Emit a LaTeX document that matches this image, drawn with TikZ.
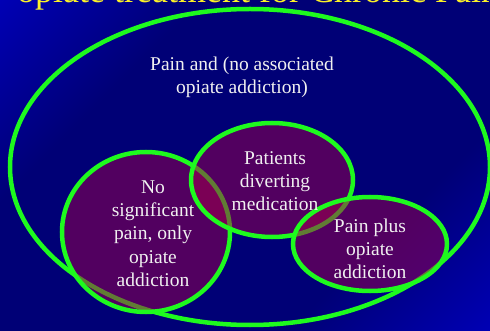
\documentclass[tikz,border=0pt]{standalone}
\usepackage{fontspec}
\setmainfont{Liberation Serif}
\definecolor{bgbright}{RGB}{0,0,232}
\definecolor{bgdark}{RGB}{0,0,118}
\definecolor{ringgreen}{RGB}{30,250,30}
\definecolor{setfill}{RGB}{165,0,75}
\definecolor{titleyellow}{RGB}{250,240,40}
\definecolor{labelwhite}{RGB}{240,240,240}
\pgfdeclarehorizontalshading{bgshade}{100bp}{color(0bp)=(bgbright); color(32bp)=(bgdark); color(68bp)=(bgdark); color(100bp)=(bgbright)}
\tikzset{
  ring/.style={draw=ringgreen, line width=4.5pt},
  subset/.style={ring, fill=setfill, fill opacity=0.5},
  lbl/.style={text=labelwhite, align=center, inner sep=0pt,
    font=\fontsize{19.5}{23.3}\selectfont},
}
\begin{document}
\begin{tikzpicture}[x=1pt,y=-1pt]
\useasboundingbox (0,0) rectangle (490,331);
\clip (0,0) rectangle (490,331);
\shade[shading=bgshade, shading angle=-45] (0,0) rectangle (490,331);
\node[anchor=base west, text=titleyellow, inner sep=0pt,
  font=\fontsize{36}{40}\selectfont] (title) at (17,3) {opiate treatment for Chronic Pain};
% big ellipse
\draw[ring] (250,167) ellipse [x radius=240, y radius=158];
\node[lbl] (pain) at (242,77.5) {Pain and (no associated\\opiate addiction)};
% subsets
\draw[subset] (146,232) ellipse [x radius=84, y radius=80];
\draw[subset] (272,180) ellipse [x radius=81, y radius=57];
\draw[subset] (370,244) ellipse [x radius=77, y radius=47];
\node[lbl] (addict) at (153,233.5) {No\\significant\\pain, only\\opiate\\addiction};
\node[lbl] (divert) at (275,181) {Patients\\diverting\\medication};
\node[lbl] (both) at (370,249) {Pain plus\\opiate\\addiction};
\end{tikzpicture}
\end{document}
